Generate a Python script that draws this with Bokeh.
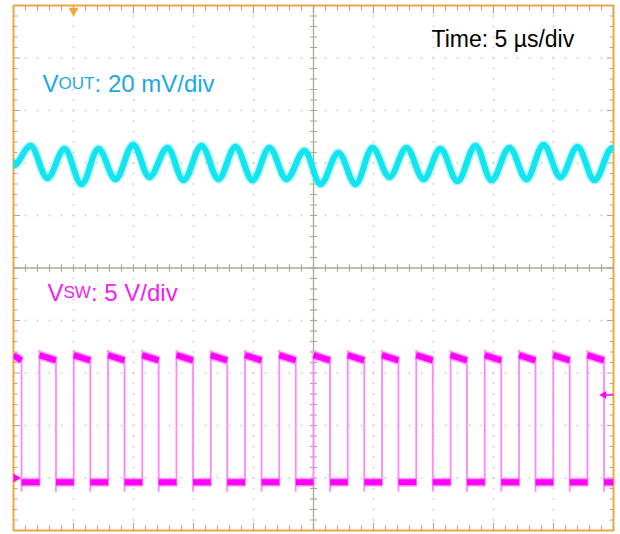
import numpy as np
from bokeh.plotting import figure
from bokeh.models import Range1d, Label, ColumnDataSource
from bokeh.embed import file_html
from bokeh.resources import INLINE

# ---------------- data ----------------
# horizontal: 5 us/div, 10 divisions -> 0..50 us
# VOUT: 20 mV/div, channel zero at +2 div
# VSW : 5 V/div,  channel zero at -4 div
vout_scale, vout_offset = 20.0, 2.0
vsw_scale, vsw_offset = 5.0, -4.0

# VOUT ripple extrema (time in us, ripple in mV)
vout_t = [0.00, 1.42, 2.83, 4.25, 5.67, 7.08, 8.50, 9.97, 11.33, 12.83, 14.17, 15.67,
          17.08, 18.50, 19.92, 21.33, 22.75, 24.25, 25.58, 27.08, 28.50, 29.92, 31.33,
          32.75, 34.17, 35.58, 37.00, 38.50, 39.83, 41.33, 42.75, 44.17, 45.58, 47.00,
          48.42, 49.90]
vout_mv = [-1.0, 6.5, -5.7, 5.3, -8.0, 5.3, -6.1, 6.9, -5.3, 5.7, -6.5, 6.5,
           -6.1, 6.1, -6.5, 5.7, -6.1, 4.6, -8.0, 3.8, -8.0, 5.7, -5.3,
           5.7, -6.1, 5.3, -6.9, 6.5, -6.5, 5.7, -6.1, 6.9, -5.3, 6.1,
           -6.5, 5.7]

# VSW switching edges (us)
sw_rise_t = [2.17, 5.02, 7.88, 10.73, 13.58, 16.44, 19.29, 22.15, 25.00, 27.85,
             30.71, 33.56, 36.42, 39.27, 42.13, 44.98, 47.83]
sw_fall_t = [0.67, 3.54, 6.40, 9.25, 12.10, 14.96, 17.81, 20.67, 23.52, 26.38,
             29.23, 32.08, 34.94, 37.79, 40.65, 43.50, 46.35, 49.21]
sw_high_start = 11.7   # V, at start of on-time
sw_high_end = 11.2     # V, at end of on-time
sw_low = -0.4          # V
sw_overshoot = 12.2    # V
sw_undershoot = -1.3   # V
trig_level = 7.9       # V
trig_pos_t = 5.0       # us

T_END = 50.0
Y_MIN, Y_MAX = -5.0, 5.0


def ch(v, scale, offset):
    return offset + np.asarray(v, dtype=float) / scale


# ---------------- figure ----------------
p = figure(width=618, height=533, x_range=Range1d(0, T_END), y_range=Range1d(Y_MIN, Y_MAX),
           output_backend="svg", toolbar_location=None,
           x_axis_location=None, y_axis_location=None,
           min_border_left=13, min_border_right=5, min_border_top=5, min_border_bottom=3)
p.grid.visible = False
p.outline_line_color = "#F2A73A"
p.outline_line_width = 2
p.background_fill_color = "white"
p.border_fill_color = "white"

# ---------------- graticule ----------------
grid_col = "#C6C6C6"
tick_col = "#ADA994"
x_minor = np.arange(0, T_END + 1e-9, 1.0)
y_minor = np.arange(Y_MIN, Y_MAX + 1e-9, 0.2)
x_major = [x for x in np.arange(5, 50, 5) if x != 25]
y_major = [y for y in np.arange(-4, 5, 1) if y != 0]

dx, dy = [], []
for yy in y_major:
    for xx in x_minor[1:-1]:
        dx.append(xx); dy.append(yy)
for xx in x_major:
    for yy in y_minor[1:-1]:
        dx.append(xx); dy.append(yy)
p.scatter(dx, dy, marker="square", size=1.6, color=grid_col, line_color=None)

# center cross
p.segment(x0=[0, 25], y0=[0, Y_MIN], x1=[T_END, 25], y1=[0, Y_MAX], line_color=tick_col, line_width=1.3)
# ticks on center lines
p.segment(x0=x_minor, y0=-0.07, x1=x_minor, y1=0.07, line_color=tick_col, line_width=1.2)
p.segment(x0=25 - 0.3, y0=y_minor, x1=25 + 0.3, y1=y_minor, line_color=tick_col, line_width=1.2)

# ticks on border
is_xmaj = np.isclose(np.mod(x_minor, 5), 0)
xl = np.where(is_xmaj, 0.15, 0.095)
p.segment(x0=x_minor, y0=Y_MAX, x1=x_minor, y1=Y_MAX - xl, line_color=tick_col, line_width=1.2)
p.segment(x0=x_minor, y0=Y_MIN, x1=x_minor, y1=Y_MIN + xl, line_color=tick_col, line_width=1.2)
is_ymaj = np.isclose(np.mod(y_minor + 10, 1.0), 0) | np.isclose(np.mod(y_minor + 10, 1.0), 1.0)
yl = np.where(is_ymaj, 0.55, 0.33)
p.segment(x0=0, y0=y_minor, x1=yl, y1=y_minor, line_color=tick_col, line_width=1.2)
p.segment(x0=T_END, y0=y_minor, x1=T_END - yl, y1=y_minor, line_color=tick_col, line_width=1.2)

# ---------------- VOUT trace (smooth curve through extrema) ----------------
vt = np.asarray(vout_t)
vy = ch(vout_mv, vout_scale, vout_offset)
k = 0.36
src = ColumnDataSource(dict(
    x0=vt[:-1], y0=vy[:-1], x1=vt[1:], y1=vy[1:],
    cx0=vt[:-1] + k * (vt[1:] - vt[:-1]), cy0=vy[:-1],
    cx1=vt[1:] - k * (vt[1:] - vt[:-1]), cy1=vy[1:]))
p.bezier(x0="x0", y0="y0", x1="x1", y1="y1", cx0="cx0", cy0="cy0", cx1="cx1", cy1="cy1",
         source=src, line_color="#7FF2F8", line_width=9, line_cap="round", line_alpha=0.5)
p.bezier(x0="x0", y0="y0", x1="x1", y1="y1", cx0="cx0", cy0="cy0", cx1="cx1", cy1="cy1",
         source=src, line_color="#12E4F0", line_width=6, line_cap="round")

# ---------------- VSW trace ----------------
hi_x0, hi_x1, lo_x0, lo_x1 = [], [], [], []
for i, f in enumerate(sw_fall_t):
    hi_x0.append(sw_rise_t[i - 1] if i > 0 else 0.0)
    hi_x1.append(f)
    lo_x0.append(f)
    lo_x1.append(sw_rise_t[i] if i < len(sw_rise_t) else T_END)

edge_col = "#FF86FF"
# edges
p.segment(x0=sw_rise_t, y0=ch(sw_undershoot * 0.6, vsw_scale, vsw_offset),
          x1=sw_rise_t, y1=ch(sw_overshoot, vsw_scale, vsw_offset),
          line_color=edge_col, line_width=1.8)
p.segment(x0=sw_fall_t, y0=ch(sw_high_end, vsw_scale, vsw_offset),
          x1=sw_fall_t, y1=ch(sw_undershoot, vsw_scale, vsw_offset),
          line_color=edge_col, line_width=1.8)
# plateaus
p.segment(x0=hi_x0, y0=ch(sw_high_start, vsw_scale, vsw_offset),
          x1=hi_x1, y1=ch(sw_high_end, vsw_scale, vsw_offset),
          line_color="#FF66FF", line_width=9, line_cap="butt", line_alpha=0.6)
p.segment(x0=hi_x0, y0=ch(sw_high_start, vsw_scale, vsw_offset),
          x1=hi_x1, y1=ch(sw_high_end, vsw_scale, vsw_offset),
          line_color="#FF00FF", line_width=6, line_cap="butt")
p.segment(x0=lo_x0, y0=ch(sw_low, vsw_scale, vsw_offset),
          x1=lo_x1, y1=ch(sw_low, vsw_scale, vsw_offset),
          line_color="#FF66FF", line_width=9, line_cap="butt", line_alpha=0.6)
p.segment(x0=lo_x0, y0=ch(sw_low, vsw_scale, vsw_offset),
          x1=lo_x1, y1=ch(sw_low, vsw_scale, vsw_offset),
          line_color="#FF00FF", line_width=6, line_cap="butt")

# ---------------- markers ----------------
p.scatter([0.1], [vout_offset], marker="triangle", angle=-np.pi / 2, size=11,
          color="#12E4F0", line_color=None)
p.scatter([0.1], [vsw_offset], marker="triangle", angle=-np.pi / 2, size=11,
          color="#FF00FF", line_color=None)
trig_y = float(ch(trig_level, vsw_scale, vsw_offset))
p.segment(x0=[49.3], y0=[trig_y], x1=[T_END], y1=[trig_y], line_color="#FF00FF", line_width=1.5)
p.scatter([49.2], [trig_y], marker="triangle", angle=np.pi / 2, size=8,
          color="#FF00FF", line_color=None)
p.scatter([trig_pos_t], [Y_MAX - 0.1], marker="inverted_triangle", size=10,
          color="#F2A73A", line_color=None)

# ---------------- labels ----------------
FONT = "Liberation Sans"
TIME_Y, VOUT_Y, VSW_Y = 4.37, 3.51, -0.47
p.add_layout(Label(x=34.83, y=TIME_Y, text="Time: 5 µs/div", text_font=FONT,
                   text_font_size="23px", text_color="black", text_baseline="alphabetic"))

vout_col = "#1CA8E3"
p.add_layout(Label(x=2.42, y=VOUT_Y, text="V", text_font=FONT, text_font_size="24px",
                   text_color=vout_col, text_baseline="alphabetic"))
p.add_layout(Label(x=2.42, y=VOUT_Y, x_offset=16, text="OUT", text_font=FONT, text_font_size="17px",
                   text_color=vout_col, text_baseline="alphabetic"))
p.add_layout(Label(x=2.42, y=VOUT_Y, x_offset=52, text=": 20 mV/div", text_font=FONT,
                   text_font_size="24px", text_color=vout_col, text_baseline="alphabetic"))

vsw_col = "#F01EF0"
p.add_layout(Label(x=2.83, y=VSW_Y, text="V", text_font=FONT, text_font_size="24px",
                   text_color=vsw_col, text_baseline="alphabetic"))
p.add_layout(Label(x=2.83, y=VSW_Y, x_offset=16, text="SW", text_font=FONT, text_font_size="17px",
                   text_color=vsw_col, text_baseline="alphabetic"))
p.add_layout(Label(x=2.83, y=VSW_Y, x_offset=43.5, text=": 5 V/div", text_font=FONT,
                   text_font_size="24px", text_color=vsw_col, text_baseline="alphabetic"))

open("out.html", "w").write(file_html(p, INLINE))
